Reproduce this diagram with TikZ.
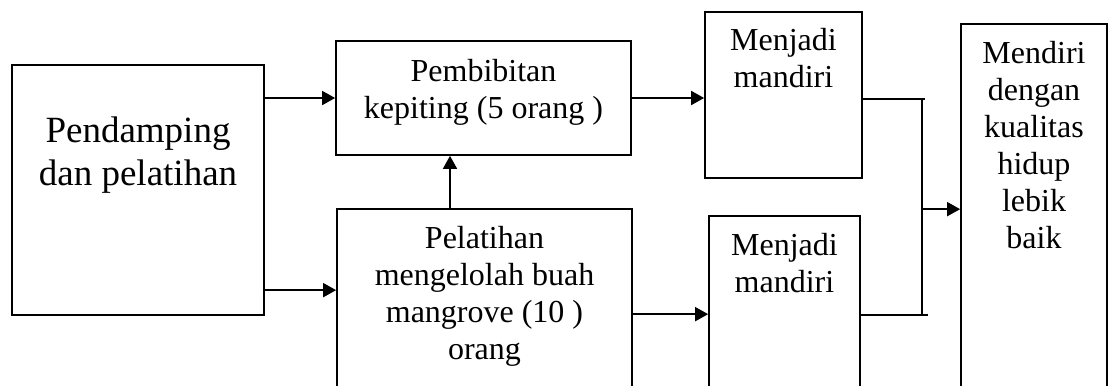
\documentclass[tikz,border=0pt]{standalone}
\usepackage{fontspec}
\setmainfont{Liberation Serif}
\usetikzlibrary{arrows.meta}

\tikzset{
  box/.style={draw, line width=1.7bp, inner sep=0pt},
  txt/.style={align=center, anchor=north, inner sep=0pt,
    font=\fontsize{32bp}{37bp}\selectfont},
  bigtxt/.style={txt, font=\fontsize{37bp}{42.5bp}\selectfont},
  arr/.style={line width=1.7bp, -{Triangle[length=13bp,width=14bp]}},
  con/.style={line width=1.7bp}
}

\begin{document}
\begin{tikzpicture}[x=1bp,y=-1bp]
\clip (0,0) rectangle (1108,385);
\fill[white] (0,0) rectangle (1108,385);
% boxes
\node[box, minimum width=252bp, minimum height=250bp] (pend) at (138,190) {};
\node[box, minimum width=295bp, minimum height=114bp] (pemb) at (483.5,98) {};
\node[box, minimum width=295bp, minimum height=211bp] (pelat) at (484.5,314.5) {};
\node[box, minimum width=157bp, minimum height=166bp] (menj1) at (783.5,95) {};
\node[box, minimum width=151bp, minimum height=204bp] (menj2) at (784.5,318) {};
\node[box, minimum width=146bp, minimum height=396bp] (mend) at (1034,222) {};
% texts
\node[bigtxt] (pendtext) at (138,117) {Pendamping\\dan pelatihan};
\node[txt] (pembtext) at (483.5,59) {Pembibitan\\kepiting (5 orang )};
\node[txt] (pelattext) at (484.5,226) {Pelatihan\\mengelolah buah\\mangrove (10 )\\orang};
\node[txt] (menj1text) at (783.5,28) {Menjadi\\mandiri};
\node[txt] (menj2text) at (784.5,233) {Menjadi\\mandiri};
\node[txt] (mendtext) at (1034,41) {Mendiri\\dengan\\kualitas\\hidup\\lebik\\baik};
% connectors
\coordinate (pelatin) at ([yshift=-82bp]pelat.north west);
\coordinate (up) at ([xshift=-34.5bp]pelat.north);
\coordinate (menj2in) at ([yshift=-99bp]menj2.north west);
\coordinate (jtop) at (922,99);
\coordinate (jbot) at (922,315);
\coordinate (mendin) at ([yshift=-186bp]mend.north west);
\draw[arr] (pemb.west -| pend.east) -- (pemb.west);
\draw[arr] ([xshift=-2bp]pend.east |- pelatin) -- (pelatin);
\draw[arr] (up) -- (up |- pemb.south);
\draw[arr] (pemb.east) -- (pemb.east -| menj1.west);
\draw[arr] (pelat.east |- menj2in) -- (menj2in);
\draw[con] (menj1.east |- jtop) -- ([xshift=3bp]jtop);
\draw[con] (menj2.east |- jbot) -- ([xshift=6bp]jbot);
\draw[con] (jtop) -- (jbot);
\draw[arr] (jtop |- mendin) -- (mendin);
\end{tikzpicture}
\end{document}
